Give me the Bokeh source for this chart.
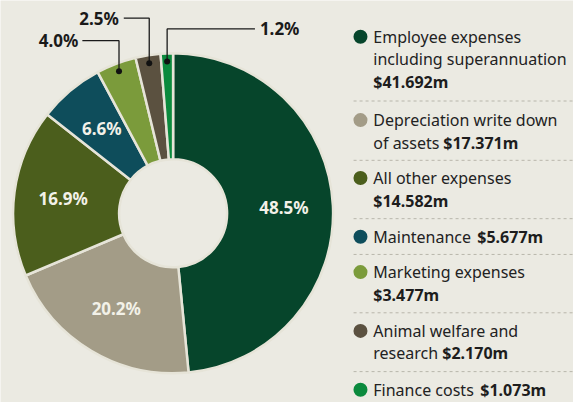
import numpy as np
from bokeh.plotting import figure
from bokeh.models import Range1d, ColumnDataSource
from bokeh.core.properties import value
from bokeh.embed import file_html
from bokeh.resources import INLINE

# ---------------- data ----------------
categories = [
    "Employee expenses including superannuation",
    "Depreciation write down of assets",
    "All other expenses",
    "Maintenance",
    "Marketing expenses",
    "Animal welfare and research",
    "Finance costs",
]
amounts = [41.692, 17.371, 14.582, 5.677, 3.477, 2.170, 1.073]
pct_labels = ["48.5%", "20.2%", "16.9%", "6.6%", "4.0%", "2.5%", "1.2%"]
colors = ["#06452b", "#a39c87", "#4b5e1c", "#0e4d5b", "#7b9b3b", "#5b5140", "#0b8a3d"]
# legend wording: each line is (regular part, show amount in bold at end?)
legend_lines = [
    [("Employee expenses", False), ("including superannuation", False), ("", True)],
    [("Depreciation write down", False), ("of assets ", True)],
    [("All other expenses", False), ("", True)],
    [("Maintenance ", True)],
    [("Marketing expenses", False), ("", True)],
    [("Animal welfare and", False), ("research ", True)],
    [("Finance costs ", True)],
]

# ---------------- layout ----------------
W, H = 573, 402
SX, SY = W / 581, H / 410
BG = "#ebeae2"
FONT = "Noto Sans"
def px(x):  # reference x -> data x
    return x * SX
def py(y):  # reference y (from top) -> data y
    return H - y * SY

cx, cy = px(175), py(217)
r_in, r_out = 54, 160
label_r = 111
dot_r = 152

p = figure(width=W, height=H, x_range=Range1d(0, W), y_range=Range1d(0, H),
           output_backend="svg", toolbar_location=None, min_border=0,
           background_fill_color=BG, border_fill_color=BG, outline_line_color=None)
p.axis.visible = False
p.xgrid.visible = False
p.ygrid.visible = False

vals = np.array(amounts)
frac = vals / vals.sum()
cum_end = np.cumsum(frac)
cum_start = cum_end - frac
theta_start = cum_start * 2 * np.pi   # clockwise from top
theta_end = cum_end * 2 * np.pi
theta_mid = (theta_start + theta_end) / 2

src = ColumnDataSource(dict(
    start=np.pi / 2 - theta_end,
    end=np.pi / 2 - theta_start,
    color=colors,
    cat=categories,
))
p.annular_wedge(x=cx, y=cy, inner_radius=r_in, outer_radius=r_out,
                start_angle="start", end_angle="end", direction="anticlock",
                fill_color="color", line_color="#e6e4d8", line_width=2.5, source=src)

# inside labels for the big slices
big = [i for i in range(len(amounts)) if frac[i] > 0.05]
p.text(x=[cx + label_r * np.sin(theta_mid[i]) for i in big],
       y=[cy + label_r * np.cos(theta_mid[i]) for i in big],
       text=[pct_labels[i] for i in big],
       text_align="center", text_baseline="middle",
       text_font=value(FONT), text_font_style="bold", text_font_size="17px",
       text_color="#f2f1e8")

# outside labels with leader lines for small slices
small = [i for i in range(len(amounts)) if frac[i] <= 0.05]
out_label_y = [41, 18, 29]          # reference y
out_line_x = [83, 125, 258]         # reference x where the leader meets the label
out_text_x = [79, 120, 263]
out_align = ["right", "right", "left"]
for k, i in enumerate(small):
    dx = cx + dot_r * np.sin(theta_mid[i])
    dy = cy + dot_r * np.cos(theta_mid[i])
    ly = py(out_label_y[k])
    p.line(x=[dx, dx, px(out_line_x[k])], y=[dy, ly, ly], line_color="#1a1a1a", line_width=1.3)
    p.scatter(x=[dx], y=[dy], size=6, fill_color="#111111", line_color=None)
    p.text(x=[px(out_text_x[k])], y=[ly], text=[pct_labels[i]],
           text_align=out_align[k], text_baseline="middle",
           text_font=value(FONT), text_font_style="bold", text_font_size="17px",
           text_color="#1a1a1a")

# legend
entry_y = [37, 122, 181, 241, 277, 337, 397]   # reference y of first line
line_gap = 23
text_x = 378
dot_x = 365
bold_dx = {"of assets ": 70, "Maintenance ": 104, "research ": 69, "Finance costs ": 107}
p.scatter(x=[px(dot_x)] * len(colors), y=[py(y) for y in entry_y], size=14,
          fill_color=colors, line_color=None)
reg_x, reg_y, reg_t, b_x, b_y, b_t = [], [], [], [], [], []
for i, lines in enumerate(legend_lines):
    for j, (txt, show_amt) in enumerate(lines):
        yy = py(entry_y[i] + j * line_gap)
        if txt:
            reg_x.append(px(text_x)); reg_y.append(yy); reg_t.append(txt)
        if show_amt:
            b_x.append(px(text_x) + bold_dx.get(txt, 0)); b_y.append(yy)
            b_t.append(f"${amounts[i]:.3f}m")
p.text(x=reg_x, y=reg_y, text=reg_t, text_align="left", text_baseline="middle",
       text_font=value(FONT), text_font_size="16px", text_color="#222222")
p.text(x=b_x, y=b_y, text=b_t, text_align="left", text_baseline="middle",
       text_font=value(FONT), text_font_style="bold", text_font_size="16px", text_color="#1d1d1d")

# dashed separators
for k in range(len(entry_y) - 1):
    last = entry_y[k] + (len(legend_lines[k]) - 1) * line_gap
    sy = py((last + entry_y[k + 1]) / 2)
    p.line(x=[px(358), W], y=[sy, sy], line_color="#b8b6ab", line_width=1, line_dash="3 3")

open("out.html", "w").write(file_html(p, INLINE))
